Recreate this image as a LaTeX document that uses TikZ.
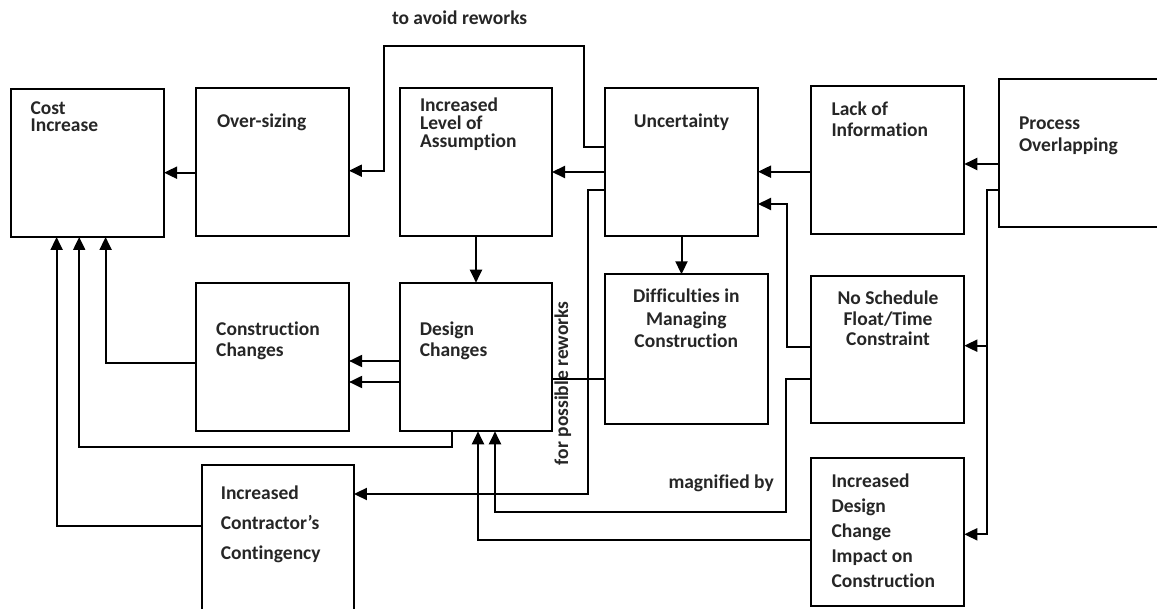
\documentclass[tikz,border=0pt]{standalone}
\usepackage{fontspec}
\setmainfont{Carlito}[Ligatures=NoCommon]
\usetikzlibrary{arrows.meta}
\definecolor{txt}{RGB}{38,38,38}
\newcommand{\tp}{\rule{0pt}{14pt}}
\setlength{\lineskiplimit}{-100pt}
\begin{document}
\begin{tikzpicture}[x=1pt,y=-1pt,
  box/.style={draw, line width=2pt, inner sep=0pt, outer sep=0pt},
  lbl/.style={inner sep=0pt, outer sep=0pt, text=txt, align=left, anchor=north west},
  sk/.style={font=\bfseries\fontsize{19.5}{#1}\selectfont},
  conn/.style={line width=2pt},
  arr/.style={conn, -{Triangle[length=13pt,width=12pt]}},
]
\useasboundingbox (0,0) rectangle (1157,609);
\clip (0,0) rectangle (1157,609);

% boxes
\node[box, minimum width=153.5pt, minimum height=148pt] (CI)  at (87.3,163) {};
\node[box, minimum width=152.7pt, minimum height=148pt] (OS)  at (272.6,161.7) {};
\node[box, minimum width=152pt,   minimum height=148pt] (ILA) at (476,161.7) {};
\node[box, minimum width=153pt,   minimum height=148pt] (UN)  at (681.5,161.7) {};
\node[box, minimum width=153pt,   minimum height=148pt] (LI)  at (887.8,160) {};
\node[box, minimum width=170pt,   minimum height=148pt] (PO)  at (1084,152.7) {};
\node[box, minimum width=163pt,   minimum height=149.4pt] (DI) at (686.5,349) {};
\node[box, minimum width=153pt,   minimum height=147.3pt] (NS) at (887.8,349.7) {};
\node[box, minimum width=153pt,   minimum height=147.7pt] (IDC) at (887.8,531.8) {};
\node[box, minimum width=152pt,   minimum height=148.6pt] (DC) at (476,357) {};
\node[box, minimum width=153pt,   minimum height=148pt] (CC) at (272.6,357.3) {};
\node[box, minimum width=152.3pt, minimum height=160pt] (ICC) at (277.8,545) {};

% texts
\node[lbl, sk=17.5] (tCI) at (30.6,100.3) {\tp Cost\\Increase};
\node[lbl, sk=17] (tOS) at (217,113.7) {\tp Over-sizing};
\node[lbl, sk=17.8] (tILA) at (420,98) {\tp Increased\\Level of\\Assumption};
\node[lbl, sk=17, anchor=north] (tUN) at (681.5,113.7) {\tp Uncertainty};
\node[lbl, sk=21.5] (tLI) at (831.5,101.5) {\tp Lack of\\Information};
\node[lbl, sk=22] (tPO) at (1019,116) {\tp Process\\Overlapping};
\node[lbl, sk=20.7] (tCC) at (216.2,322) {\tp Construction\\Changes};
\node[lbl, sk=20.7] (tDC) at (419.8,322) {\tp Design\\Changes};
\node[lbl, sk=30] (tICC) at (220.8,485.3) {\tp Increased\\Contractor’s\\Contingency};
\node[lbl, sk=22.5, align=center, anchor=north] (tDI) at (686.3,288.7) {\tp Difficulties in\\Managing\\Construction};
\node[lbl, sk=20.5, align=center, anchor=north] (tNS) at (888,291) {\tp No Schedule\\Float/Time\\Constraint};
\node[lbl, sk=25] (tIDC) at (831.5,473.7) {\tp Increased\\Design\\Change\\Impact on\\Construction};

% connector labels
\node[lbl, sk=17, anchor=base west] (lAvoid) at (392,24.5) {to avoid reworks};
\node[lbl, sk=17, anchor=base west] (lMag) at (668.5,488) {magnified by};
\node[lbl, sk=17, anchor=base west, rotate=90] (lPos) at (568,465) {for possible reworks};

% connectors
\draw[arr] (OS.west |- 0,172.7) -- (CI.east |- 0,172.7);
\draw[arr] (UN.west |- 0,146.7) -| (583.5,45.7) -| (384,170.7) -- (OS.east |- 0,170.7);
\draw[arr] (UN.west |- 0,172) -- (ILA.east |- 0,172);
\draw[arr] (LI.west |- 0,171.7) -- (UN.east |- 0,171.7);
\draw[arr] (PO.west |- 0,164) -- (LI.east |- 0,164);
\draw[arr] (UN.west |- 0,190) -| (588.4,494) -- (ICC.east |- 0,494);
\draw[arr] (UN.south) -- (UN.south |- DI.north);
\draw[arr] (ILA.south) -- (DC.north);
\draw[arr] (DC.west |- 0,361) -- (CC.east |- 0,361);
\draw[arr] (DC.west |- 0,382) -- (CC.east |- 0,382);
\draw[arr] (CC.west |- 0,363.3) -| (CI.south -| 105.6,0);
\draw[arr] (DC.south -| 452,0) |- (79.2,447.3) -- (CI.south -| 79.2,0);
\draw[arr] (ICC.west |- 0,525.7) -| (CI.south -| 56.6,0);
\draw[arr] (NS.west |- 0,379) -| (785.8,511.7) -| (DC.south -| 495,0);
\draw[arr] (IDC.west |- 0,540) -| (DC.south -| 478,0);
\draw[conn] (DI.west |- 0,379) -- (DC.east |- 0,379);
\draw[arr] (NS.west |- 0,346.7) -| (786.5,204) -- (UN.east |- 0,204);
\draw[arr] (PO.west |- 0,190) -| (986.5,534.3) coordinate (poTurn) -- (IDC.east |- 0,534.3);
\coordinate (poBranch) at (986.5,345.7);
\draw[arr] (poBranch) -- (NS.east |- poBranch);
\end{tikzpicture}
\end{document}
